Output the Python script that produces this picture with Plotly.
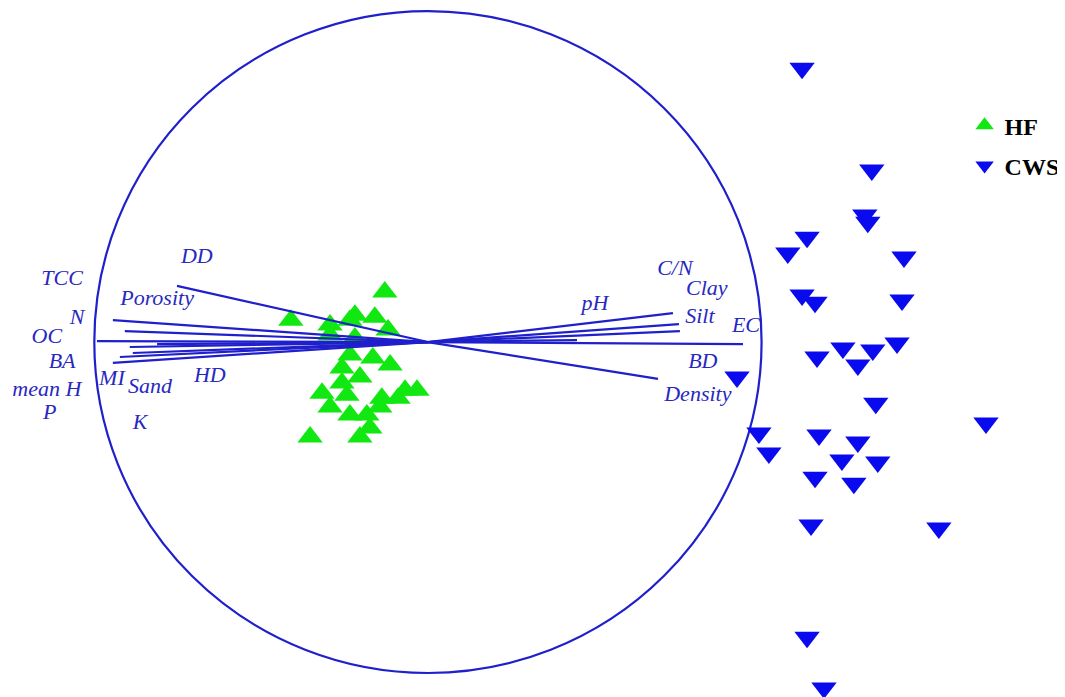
import plotly.graph_objects as go

# ---- data (unit circle = correlation circle) ----
hf_x = [-0.130, -0.413, -0.295, -0.220, -0.160, -0.120, -0.235, -0.235, -0.166, -0.114,
        -0.259, -0.205, -0.259, -0.319, -0.244, -0.069, -0.033, -0.139, -0.090, -0.295,
        -0.235, -0.184, -0.145, -0.355, -0.205, -0.175, -0.220, -0.295]
hf_y = [0.151, 0.066, 0.051, 0.081, 0.075, 0.036, 0.066, -0.039, -0.048, -0.069,
        -0.078, -0.105, -0.123, -0.154, -0.160, -0.145, -0.145, -0.169, -0.169, -0.196,
        -0.220, -0.220, -0.196, -0.286, -0.286, -0.259, 0.012, 0.021]

cws_x = [1.127, 1.337, 1.316, 1.325, 1.142, 1.084, 1.434, 1.127, 1.166, 1.428,
         1.413, 1.172, 1.250, 1.340, 1.295, 0.931, 1.349, 1.681, 0.997, 1.027,
         1.178, 1.295, 1.247, 1.355, 1.166, 1.283, 1.154, 1.539, 1.142, 1.193]
cws_y = [0.825, 0.518, 0.383, 0.361, 0.316, 0.268, 0.256, 0.142, 0.120, 0.127,
         -0.003, -0.045, -0.018, -0.024, -0.069, -0.105, -0.184, -0.244, -0.274, -0.334,
         -0.280, -0.301, -0.355, -0.361, -0.407, -0.425, -0.551, -0.560, -0.889, -1.042]

# loading vectors (end points of lines from origin)
load_x = [-0.756, -0.949, -0.913, -0.997, -0.898, -0.816, -0.889, -0.928, -0.949,
          0.738, 0.756, 0.759, 0.949, 0.449, 0.693]
load_y = [0.169, 0.066, 0.033, 0.003, -0.015, -0.006, -0.033, -0.045, -0.063,
          0.087, 0.054, 0.033, -0.006, 0.006, -0.111]

# variable labels and their positions
var_names = ["DD", "TCC", "Porosity", "N", "OC", "BA", "mean H", "MI", "Sand", "HD",
             "P", "K", "C/N", "Clay", "pH", "Silt", "EC", "BD", "Density"]
var_x = [-0.696, -1.102, -0.816, -1.057, -1.148, -1.102, -1.148, -0.952, -0.837, -0.657,
         -1.139, -0.867, 0.744, 0.840, 0.503, 0.819, 0.958, 0.828, 0.813]
var_y = [0.256, 0.187, 0.127, 0.072, 0.015, -0.063, -0.145, -0.114, -0.136, -0.105,
         -0.214, -0.244, 0.220, 0.157, 0.114, 0.075, 0.048, -0.063, -0.160]

LINE_BLUE = "#1f1fcc"
TEXT_BLUE = "#2828c0"

fig = go.Figure()

fig.add_trace(go.Scatter(x=hf_x, y=hf_y, mode="markers", name="HF", legendgroup="hf",
                         marker=dict(symbol="triangle-up", size=22, color="#11e811",
                                     line=dict(width=0))))
fig.add_trace(go.Scatter(x=cws_x, y=cws_y, mode="markers", name="CWS", legendgroup="cws",
                         marker=dict(symbol="triangle-down", size=22, color="#0a0aee",
                                     line=dict(width=0))))

# loading lines (drawn over the points)
lx, ly = [], []
for x, y in zip(load_x, load_y):
    lx += [0, x, None]
    ly += [0, y, None]
fig.add_trace(go.Scatter(x=lx, y=ly, mode="lines", line=dict(color=LINE_BLUE, width=2.2),
                         showlegend=False, hoverinfo="skip"))

fig.add_trace(go.Scatter(x=var_x, y=var_y, mode="text", text=var_names,
                         textfont=dict(family="Liberation Serif", size=22, color=TEXT_BLUE,
                                       style="italic"),
                         showlegend=False, hoverinfo="skip"))

fig.add_shape(type="circle", xref="x", yref="y", x0=-1.005, x1=1.005, y0=-0.997, y1=0.997,
              line=dict(color=LINE_BLUE, width=2.2), layer="below")

# the page body adds an 8 px offset; the figure is sized to fill the rest of the window
fig.update_layout(
    width=1057, height=689,
    margin=dict(l=0, r=0, t=0, b=0),
    paper_bgcolor="white", plot_bgcolor="white",
    xaxis=dict(range=[-1.265, 1.919], visible=False, showgrid=False, zeroline=False),
    yaxis=dict(range=[-1.069, 1.006], visible=False, showgrid=False, zeroline=False,
               scaleanchor="x", scaleratio=1),
    legend=dict(x=0.905, y=0.862, xanchor="left", yanchor="top",
                font=dict(family="Liberation Serif", size=24, color="black", weight="bold"),
                bgcolor="rgba(0,0,0,0)", itemwidth=30, tracegroupgap=6,
                traceorder="grouped"),
    showlegend=True,
)

fig.write_html("out.html")
